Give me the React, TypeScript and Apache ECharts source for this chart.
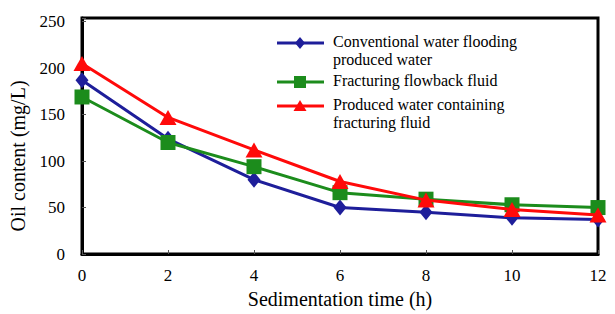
import React, { useEffect, useRef } from "react";
import * as echarts from "echarts";

const timeH = [0, 2, 4, 6, 8, 10, 12];
const conventional = [187, 124, 80, 50, 45, 39, 37];
const flowback = [169, 120, 94, 66, 59, 53, 50];
const containing = [205, 147, 112, 78, 58, 48, 42];
const yTicks = [0, 50, 100, 150, 200, 250];

const names = [
  "Conventional water flooding\nproduced water",
  "Fracturing flowback fluid",
  "Produced water containing\nfracturing fluid",
];
const colors = ["#1e1e9a", "#1c8c1c", "#ff0a0a"];

const FONT = "'Liberation Serif', 'Times New Roman', serif";

function legendGraphic() {
  const x0 = 277;
  const x1 = 324;
  const cx = 300;
  const textX = 333;
  const rows = [43, 82, 106];
  const els: any[] = [];
  rows.forEach((y, i) => {
    const c = colors[i];
    els.push({
      type: "line",
      shape: { x1: x0, y1: y, x2: x1, y2: y },
      style: { stroke: c, lineWidth: 3 },
    });
    if (i === 0) {
      els.push({
        type: "polygon",
        shape: { points: [[cx, y - 6], [cx + 5, y], [cx, y + 6], [cx - 5, y]] },
        style: { fill: c },
      });
    } else if (i === 1) {
      els.push({ type: "rect", shape: { x: cx - 6, y: y - 6, width: 12, height: 12 }, style: { fill: c } });
    } else {
      els.push({
        type: "polygon",
        shape: { points: [[cx, y - 6], [cx + 6.5, y + 5], [cx - 6.5, y + 5]] },
        style: { fill: c },
      });
    }
    els.push({
      type: "text",
      x: textX,
      y: y - 11,
      style: {
        text: names[i],
        fontFamily: FONT,
        fontSize: 16,
        lineHeight: 18,
        fill: "#000",
        verticalAlign: "top",
        align: "left",
      },
    });
  });
  return els;
}

export default function App() {
  const ref = useRef<HTMLDivElement>(null);
  useEffect(() => {
    if (!ref.current) return;
    const chart = echarts.init(ref.current, undefined, { renderer: "svg" });
    const mk = (arr: number[]) => timeH.map((t, i) => [t, arr[i]]);
    chart.setOption({
      animation: false,
      backgroundColor: "#fff",
      grid: {
        left: 82,
        right: 17,
        top: 18,
        bottom: 60,
        show: true,
        borderColor: "#000",
        borderWidth: 3,
      },
      graphic: legendGraphic(),
      xAxis: {
        type: "value",
        min: 0,
        max: 12,
        interval: 2,
        name: "Sedimentation time (h)",
        nameLocation: "middle",
        nameGap: 35,
        nameTextStyle: { fontFamily: FONT, fontSize: 20, color: "#000" },
        axisLine: { show: true, lineStyle: { color: "#000", width: 3 } },
        axisTick: { show: true, inside: true, length: 4, lineStyle: { color: "#555", width: 1 } },
        axisLabel: { fontFamily: FONT, fontSize: 17, color: "#000", margin: 13 },
        splitLine: { show: false },
      },
      yAxis: {
        type: "value",
        min: 0,
        max: 254,
        interval: 50,
        name: "Oil content (mg/L)",
        nameLocation: "middle",
        nameGap: 54,
        nameTextStyle: { fontFamily: FONT, fontSize: 20, color: "#000", padding: [0, 40, 0, 0] },
        axisLine: { show: true, lineStyle: { color: "#000", width: 3 } },
        axisTick: { show: true, inside: true, length: 4, lineStyle: { color: "#555", width: 1 } },
        axisLabel: {
          fontFamily: FONT,
          fontSize: 17,
          color: "#000",
          margin: 17,
          formatter: (v: number) => (yTicks.includes(v) ? String(v) : ""),
        },
        splitLine: { show: false },
      },
      series: [
        {
          name: names[0],
          type: "line",
          data: mk(conventional),
          symbol: "diamond",
          symbolSize: [13, 16],
          lineStyle: { color: colors[0], width: 3 },
          itemStyle: { color: colors[0] },
          z: 3,
        },
        {
          name: names[1],
          type: "line",
          data: mk(flowback),
          symbol: "rect",
          symbolSize: 15,
          lineStyle: { color: colors[1], width: 3 },
          itemStyle: { color: colors[1] },
          z: 4,
        },
        {
          name: names[2],
          type: "line",
          data: mk(containing),
          symbol: "triangle",
          symbolSize: [17, 15],
          lineStyle: { color: colors[2], width: 3 },
          itemStyle: { color: colors[2] },
          z: 5,
        },
      ],
    });
    return () => chart.dispose();
  }, []);
  return (
    <div
      ref={ref}
      style={{ position: "absolute", left: 0, top: 0, width: 615, height: 314 }}
    />
  );
}
